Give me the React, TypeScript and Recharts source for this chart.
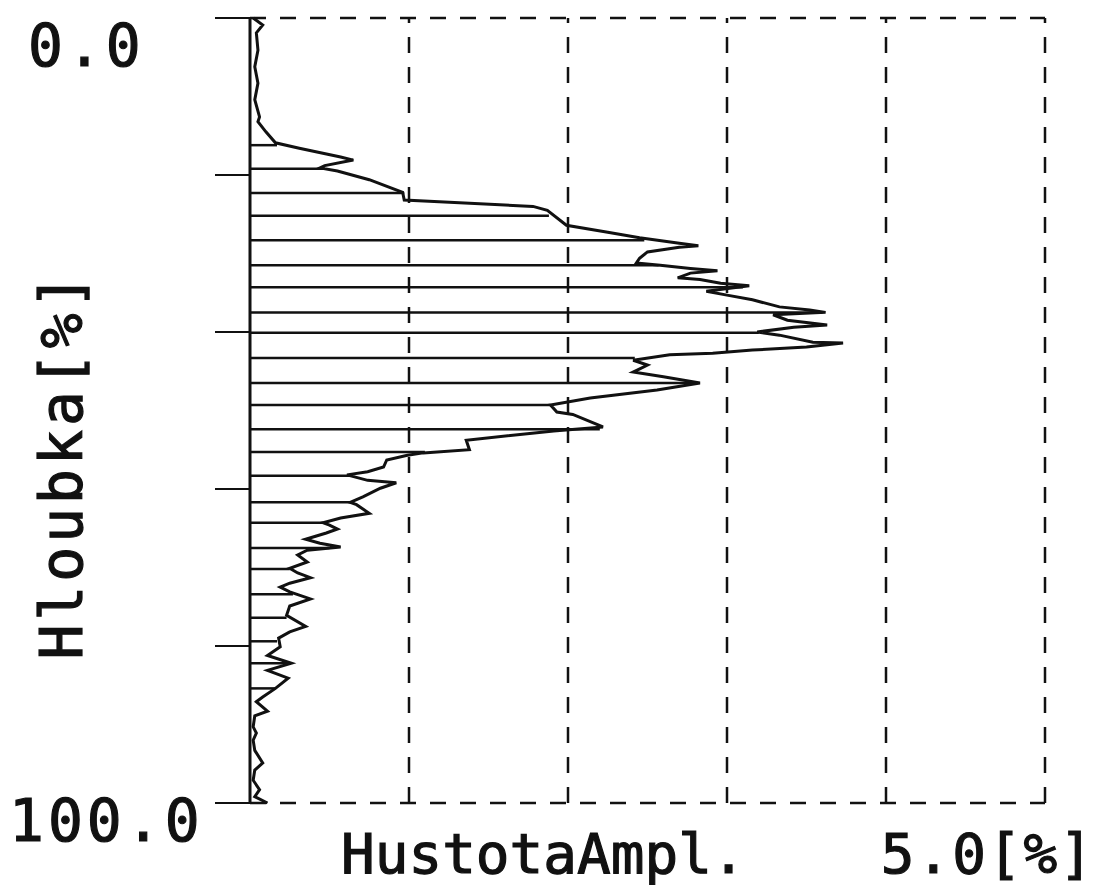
import React from 'react'
import { ComposedChart, Line, XAxis, YAxis, ReferenceLine } from 'recharts'

// hloubka [%] (0 nahore) a hustota amplitud [%]
const DEPTH = [
  0, 0.9, 1.9, 4.1, 6.2, 8.3, 10.4, 12.6, 13.2, 14.5,
  15.9, 16.6, 17.7, 18.1, 18.8, 19.1, 19.5, 20.6, 22.2, 23.2,
  23.4, 24.0, 24.5, 26.4, 27.3, 28.0, 28.7, 29.0, 29.2, 29.8,
  30.6, 31.2, 31.5, 31.9, 32.2, 32.5, 33.1, 33.3, 33.8, 34.1,
  34.8, 35.3, 35.9, 36.8, 37.2, 37.5, 37.8, 38.5, 39.1, 39.4,
  40.0, 40.4, 41.3, 41.4, 41.9, 42.3, 42.7, 42.9, 43.6, 44.2,
  45.1, 45.7, 46.5, 47.4, 48.4, 49.3, 50.2, 50.5, 52.1, 52.6,
  53.8, 55.0, 55.4, 55.7, 56.3, 57.2, 57.8, 58.2, 58.9, 59.2,
  59.9, 61.0, 61.7, 62.0, 63.1, 63.7, 64.3, 64.6, 65.1, 65.6,
  66.4, 66.9, 67.4, 67.8, 68.4, 69.3, 70.1, 70.7, 71.3, 72.0,
  72.5, 73.1, 74.0, 74.9, 76.1, 77.5, 78.2, 79.0, 80.1, 81.2,
  82.2, 83.1, 84.1, 85.4, 86.5, 87.1, 88.3, 88.9, 90.3, 91.1,
  92.0, 93.3, 94.9, 95.8, 97.1, 98.3, 99.2, 100,
]
const AMPL = [
  0.02, 0.08, 0.04, 0.05, 0.03, 0.05, 0.03, 0.06, 0.05, 0.10,
  0.16, 0.31, 0.57, 0.65, 0.47, 0.44, 0.55, 0.75, 0.96, 0.97,
  1.19, 1.78, 1.87, 1.99, 2.25, 2.45, 2.70, 2.82, 2.70, 2.50,
  2.45, 2.43, 2.58, 2.77, 2.94, 2.77, 2.69, 2.83, 2.96, 3.14,
  2.87, 3.00, 3.16, 3.33, 3.52, 3.62, 3.29, 3.38, 3.63, 3.42,
  3.19, 3.33, 3.54, 3.73, 3.50, 3.16, 2.91, 2.64, 2.41, 2.50,
  2.41, 2.60, 2.83, 2.56, 2.14, 1.89, 1.93, 2.03, 2.22, 1.91,
  1.36, 1.38, 1.09, 0.99, 0.86, 0.84, 0.74, 0.61, 0.74, 0.92,
  0.82, 0.71, 0.63, 0.67, 0.75, 0.57, 0.46, 0.50, 0.55, 0.48,
  0.35, 0.44, 0.57, 0.36, 0.30, 0.36, 0.25, 0.30, 0.38, 0.25,
  0.19, 0.25, 0.38, 0.25, 0.23, 0.35, 0.25, 0.18, 0.19, 0.11,
  0.26, 0.11, 0.24, 0.16, 0.08, 0.04, 0.11, 0.03, 0.02, 0.04,
  0.02, 0.03, 0.08, 0.03, 0.02, 0.06, 0.03, 0.11,
]

// vodorovne srafovani od osy ke krivce
const HATCH_DEPTH = [
  16.2, 19.2, 22.3, 25.2, 28.3, 31.5, 34.3, 37.5, 40.1, 43.3, 46.5, 49.3,
  52.4, 55.3, 58.3, 61.7, 64.3, 67.5, 70.2, 73.4, 76.4, 79.4, 82.2, 85.4,
]
const HATCH_AMPL = [
  0.17, 0.46, 0.97, 1.88, 2.48, 2.57, 3.1, 3.6, 3.2, 2.42, 2.8, 1.89,
  2.2, 1.1, 0.63, 0.63, 0.46, 0.5, 0.25, 0.27, 0.23, 0.17, 0.25, 0.16,
]

const X_GRID = [1, 2, 3, 4, 5]
const Y_BORDER = [0, 100]
const Y_TICKS = [0, 20, 40, 60, 80, 100]
const Y_TICK_LABELS: Record<number, string> = { 0: '0.0', 100: '100.0' }
const Y_TITLE = 'Hloubka[%]'
const X_TITLE = 'HustotaAmpl.'
const X_MAX_LABEL = '5.0[%]'

const FONT = '"DejaVu Sans Mono", monospace'
const INK = '#111'
const textStyle = { fontFamily: FONT, fill: INK, stroke: INK, strokeWidth: 1.2 }

const data = DEPTH.map((d, i) => ({ depth: d, ampl: AMPL[i] }))

function DepthTick(props: any) {
  const { y, payload } = props
  const label = Y_TICK_LABELS[payload.value]
  if (!label) return <g />
  const top = payload.value === 0
  return (
    <text x={top ? 28 : 9} y={y + (top ? 48 : 38)} fontSize={58} letterSpacing={4}
      {...textStyle}>{label}</text>
  )
}

export default function App() {
  return (
    <div style={{ position: 'absolute', left: 0, top: 0, width: 1102, height: 885, background: '#fff' }}>
      <ComposedChart width={1102} height={885} data={data} layout="vertical"
        margin={{ top: 18, right: 57, bottom: 82, left: 190 }}>
        <XAxis type="number" dataKey="ampl" domain={[0, 5]} hide />
        <YAxis type="number" dataKey="depth" domain={[0, 100]} ticks={Y_TICKS}
          width={60} tickSize={35} interval={0}
          axisLine={{ stroke: INK, strokeWidth: 3 }}
          tickLine={{ stroke: INK, strokeWidth: 2 }}
          tick={<DepthTick />} />

        {X_GRID.map(v => (
          <ReferenceLine key={`gx${v}`} x={v} stroke={INK} strokeWidth={2.5} strokeDasharray="16 14" />
        ))}
        {Y_BORDER.map(v => (
          <ReferenceLine key={`gy${v}`} y={v} stroke={INK} strokeWidth={2.5} strokeDasharray="16 14" />
        ))}

        {HATCH_DEPTH.map((d, i) => (
          <ReferenceLine key={`h${i}`} segment={[{ x: 0, y: d }, { x: HATCH_AMPL[i], y: d }]}
            stroke={INK} strokeWidth={2.5} />
        ))}

        <Line type="linear" dataKey="ampl" stroke={INK} strokeWidth={3} dot={false}
          isAnimationActive={false} />

        <text x={82} y={465} transform="rotate(-90 82 465)" textAnchor="middle"
          fontSize={58} letterSpacing={4} {...textStyle}>{Y_TITLE}</text>
        <text x={341} y={873} fontSize={56} letterSpacing={0} {...textStyle}>{X_TITLE}</text>
        <text x={1095} y={873} textAnchor="end" fontSize={56} letterSpacing={2}
          {...textStyle}>{X_MAX_LABEL}</text>
      </ComposedChart>
    </div>
  )
}
